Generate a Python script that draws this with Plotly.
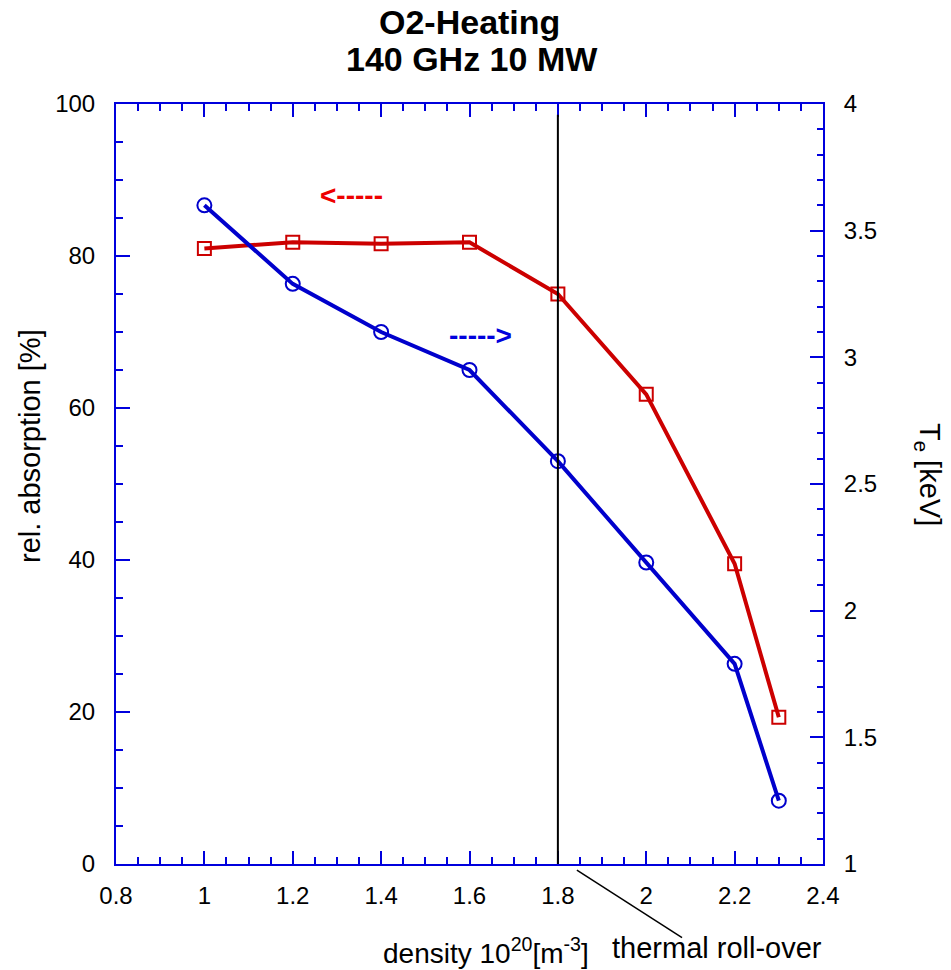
import plotly.graph_objects as go

density = [1.0, 1.2, 1.4, 1.6, 1.8, 2.0, 2.2, 2.3]
absorption = [81.0, 81.8, 81.6, 81.8, 75.0, 61.8, 39.5, 19.3]
te_kev = [3.60, 3.29, 3.10, 2.95, 2.59, 2.19, 1.79, 1.25]
rollover_density = 1.8

RED = "#CC0000"
BLUE = "#0000CC"
AXIS_BLUE = "#0000DD"
FONT = "Liberation Sans, Arial, sans-serif"

fig = go.Figure()
fig.add_trace(go.Scatter(
    x=density, y=absorption, mode="lines+markers", yaxis="y",
    line=dict(color=RED, width=4),
    marker=dict(symbol="square-open", size=13, color=RED, line=dict(width=2, color=RED)),
    showlegend=False))
fig.add_trace(go.Scatter(
    x=density, y=te_kev, mode="lines+markers", yaxis="y2",
    line=dict(color=BLUE, width=4),
    marker=dict(symbol="circle-open", size=14, color=BLUE, line=dict(width=2, color=BLUE)),
    showlegend=False))

tickfont = dict(family=FONT, size=24, color="black")

fig.update_layout(
    width=951, height=970,
    margin=dict(l=116, r=128, t=104, b=106),
    paper_bgcolor="white", plot_bgcolor="white",
    font=dict(family=FONT, color="black"),
    xaxis=dict(range=[0.8, 2.4], dtick=0.2, tick0=0.8, ticks="inside", ticklen=13, tickwidth=2,
               tickcolor=AXIS_BLUE, showline=True, linecolor=AXIS_BLUE, linewidth=2, mirror="ticks",
               showgrid=False, zeroline=False, tickfont=tickfont, ticklabelstandoff=9,
               minor=dict(dtick=0.05, ticks="inside", ticklen=7, tickwidth=2, tickcolor=AXIS_BLUE, showgrid=False)),
    yaxis=dict(range=[0, 100], dtick=20, ticks="inside", ticklen=14, tickwidth=2,
               tickcolor=AXIS_BLUE, showline=True, linecolor=AXIS_BLUE, linewidth=2,
               showgrid=False, zeroline=False, tickfont=tickfont, ticklabelstandoff=14,
               minor=dict(dtick=5, ticks="inside", ticklen=7, tickwidth=2, tickcolor=AXIS_BLUE, showgrid=False)),
    yaxis2=dict(range=[1, 4], dtick=0.5, tick0=1, overlaying="y", side="right", ticks="inside", ticklen=13,
                tickwidth=2, tickcolor=AXIS_BLUE, showline=True, linecolor=AXIS_BLUE, linewidth=2,
                showgrid=False, zeroline=False, tickfont=tickfont, ticklabelstandoff=14,
                minor=dict(dtick=0.1, ticks="inside", ticklen=6, tickwidth=2, tickcolor=AXIS_BLUE, showgrid=False)),
)

# vertical roll-over line
fig.add_shape(type="line", xref="x", yref="paper", x0=rollover_density, x1=rollover_density,
              y0=0, y1=0.986, line=dict(color="black", width=2))
# pointer line to label
fig.add_shape(type="line", xref="x", yref="paper", x0=1.843, x1=2.081, y0=-0.008, y1=-0.097,
              line=dict(color="black", width=1.5))

ann = []
ann.append(dict(text="<b>O2-Heating</b>", x=0.5, y=1.1085, xref="paper", yref="paper",
                xanchor="center", yanchor="middle", showarrow=False,
                font=dict(family=FONT, size=34, color="black")))
ann.append(dict(text="<b>140 GHz 10 MW</b>", x=0.504, y=1.0586, xref="paper", yref="paper",
                xanchor="center", yanchor="middle", showarrow=False,
                font=dict(family=FONT, size=34, color="black")))
ann.append(dict(text="density 10<sup>20</sup>[m<sup>-3</sup>]", x=0.5233, y=-0.1145, xref="paper", yref="paper",
                xanchor="center", yanchor="middle", showarrow=False,
                font=dict(family=FONT, size=28, color="black")))
ann.append(dict(text="thermal roll-over", x=0.8507, y=-0.1105, xref="paper", yref="paper",
                xanchor="center", yanchor="middle", showarrow=False,
                font=dict(family=FONT, size=29, color="black")))
ann.append(dict(text="rel. absorption [%]", x=-0.1216, y=0.55, xref="paper", yref="paper",
                xanchor="center", yanchor="middle", showarrow=False, textangle=-90,
                font=dict(family=FONT, size=29, color="black")))
ann.append(dict(text="T<sub>e</sub> [keV]", x=1.1485, y=0.5118, xref="paper", yref="paper",
                xanchor="center", yanchor="middle", showarrow=False, textangle=90,
                font=dict(family=FONT, size=29, color="black")))
ann.append(dict(text="<b>&lt;-----</b>", x=1.334, y=88.0, xref="x", yref="y",
                xanchor="center", yanchor="middle", showarrow=False,
                font=dict(family=FONT, size=28, color="#EE0000")))
ann.append(dict(text="<b>-----&gt;</b>", x=1.624, y=69.6, xref="x", yref="y",
                xanchor="center", yanchor="middle", showarrow=False,
                font=dict(family=FONT, size=28, color="#0000DD")))
fig.update_layout(annotations=ann)

fig.write_html("out.html")
